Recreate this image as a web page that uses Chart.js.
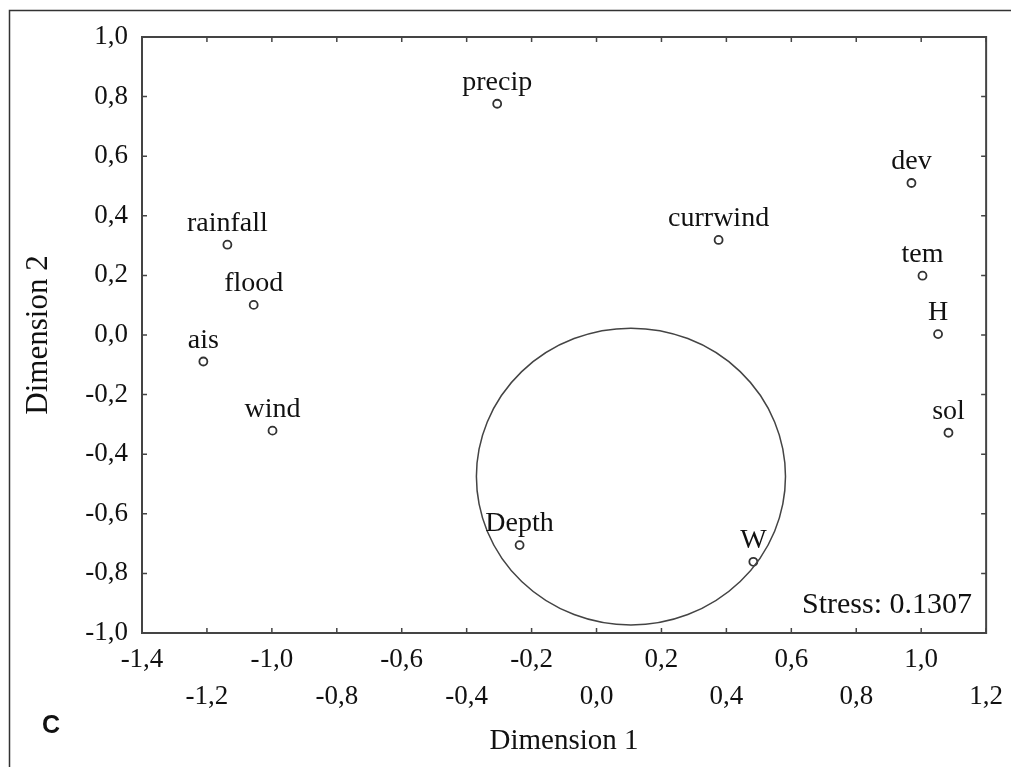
<!DOCTYPE html>
<html>
<head>
<meta charset="utf-8">
<script src="https://cdn.jsdelivr.net/npm/chart.js@4"></script>
<style>
  body { margin: 0; background: #fff; }
  #wrap { position: relative; width: 1011px; height: 767px; }
</style>
</head>
<body>
<div id="wrap"><canvas id="mds-chart" width="1011" height="767"></canvas></div>
<script>
// MDS configuration of the variables
const names = ['precip', 'dev', 'currwind', 'rainfall', 'tem', 'flood', 'H', 'ais', 'wind', 'sol', 'Depth', 'W'];
const dim1 = [-0.306, 0.970, 0.376, -1.137, 1.004, -1.056, 1.052, -1.211, -0.998, 1.084, -0.237, 0.483];
const dim2 = [0.776, 0.510, 0.319, 0.303, 0.199, 0.101, 0.003, -0.089, -0.321, -0.328, -0.705, -0.761];

// axis ticks
const xTicks = [-1.4, -1.2, -1.0, -0.8, -0.6, -0.4, -0.2, 0.0, 0.2, 0.4, 0.6, 0.8, 1.0, 1.2];
const yTicks = [-1.0, -0.8, -0.6, -0.4, -0.2, 0.0, 0.2, 0.4, 0.6, 0.8, 1.0];

// grouping circle (centre and radii in data units)
const circleCenter = [0.106, -0.475];
const circleRadius = [0.476, 0.498];

const stressText = 'Stress: 0.1307';
const panelLetter = 'C';

const serif = '"Liberation Serif", "Times New Roman", serif';
const textColor = '#111';
const lineColor = '#444';

function fmt(v) {
    const r = Math.round(v * 10) / 10;
    return (r === 0 ? 0 : r).toFixed(1).replace('.', ',');
}

// box, inward ticks, circle, point labels and annotations
const decorations = {
    id: 'decorations',
    beforeDraw(chart) {
        const ctx = chart.ctx;
        ctx.save();
        ctx.strokeStyle = '#333';
        ctx.lineWidth = 1.5;
        ctx.beginPath();
        ctx.moveTo(9.5, 767);
        ctx.lineTo(9.5, 10.5);
        ctx.lineTo(1011, 10.5);
        ctx.stroke();
        ctx.restore();
    },
    afterDatasetsDraw(chart) {
        const ctx = chart.ctx;
        const {left, right, top, bottom} = chart.chartArea;
        const xs = chart.scales.x, ys = chart.scales.y;
        ctx.save();

        // frame
        ctx.strokeStyle = lineColor;
        ctx.lineWidth = 2;
        ctx.strokeRect(left, top, right - left, bottom - top);

        // ticks pointing inwards on all four sides
        ctx.lineWidth = 1.5;
        ctx.beginPath();
        xTicks.forEach(v => {
            const px = xs.getPixelForValue(v);
            ctx.moveTo(px, bottom); ctx.lineTo(px, bottom - 5);
            ctx.moveTo(px, top); ctx.lineTo(px, top + 5);
        });
        yTicks.forEach(v => {
            const py = ys.getPixelForValue(v);
            ctx.moveTo(left, py); ctx.lineTo(left + 5, py);
            ctx.moveTo(right, py); ctx.lineTo(right - 5, py);
        });
        ctx.stroke();

        // circle
        const cx = xs.getPixelForValue(circleCenter[0]);
        const cy = ys.getPixelForValue(circleCenter[1]);
        const rx = xs.getPixelForValue(circleCenter[0] + circleRadius[0]) - cx;
        const ry = cy - ys.getPixelForValue(circleCenter[1] + circleRadius[1]);
        ctx.lineWidth = 1.5;
        ctx.beginPath();
        ctx.ellipse(cx, cy, rx, ry, 0, 0, Math.PI * 2);
        ctx.stroke();

        // point labels
        ctx.fillStyle = textColor;
        ctx.font = '28px ' + serif;
        ctx.textAlign = 'center';
        ctx.textBaseline = 'alphabetic';
        chart.getDatasetMeta(0).data.forEach((pt, i) => {
            ctx.fillText(names[i], pt.x, pt.y - 14);
        });

        // stress value
        ctx.font = '30px ' + serif;
        ctx.textAlign = 'right';
        ctx.fillText(stressText, 972, 613);

        // panel letter
        ctx.font = 'bold 25px "Liberation Sans", Arial, sans-serif';
        ctx.textAlign = 'left';
        ctx.fillText(panelLetter, 42, 733);
        ctx.restore();
    }
};

new Chart(document.getElementById('mds-chart'), {
    type: 'scatter',
    data: {
        datasets: [
            {
                label: 'variables',
                data: names.map((n, i) => ({x: dim1[i], y: dim2[i]})),
                pointStyle: 'circle',
                pointRadius: 4,
                pointBorderWidth: 1.8,
                borderColor: '#333',
                backgroundColor: '#fff',
            }
        ]
    },
    options: {
        responsive: false,
        animation: false,
        layout: {
            padding: {left: 0, top: 37, right: 23, bottom: 0},
        },
        plugins: {
            legend: {display: false},
            tooltip: {enabled: false},
        },
        scales: {
            x: {
                type: 'linear',
                min: -1.4,
                max: 1.2,
                afterBuildTicks: scale => { scale.ticks = xTicks.map(v => ({value: v})); },
                afterFit: scale => { scale.height = 134; },
                grid: {display: false, drawTicks: false},
                border: {display: false},
                ticks: {
                    padding: 8,
                    autoSkip: false,
                    maxRotation: 0,
                    color: textColor,
                    font: {family: serif, size: 27, lineHeight: 1.38},
                    callback: (v, i) => i % 2 === 0 ? [fmt(v)] : ['', fmt(v)],
                },
                title: {
                    display: true,
                    text: 'Dimension 1',
                    color: textColor,
                    font: {family: serif, size: 29, lineHeight: 1.2},
                    padding: {top: 0, bottom: 8},
                },
            },
            y: {
                type: 'linear',
                min: -1.0,
                max: 1.0,
                afterBuildTicks: scale => { scale.ticks = yTicks.map(v => ({value: v})); },
                afterFit: scale => { scale.width = 142; },
                grid: {display: false, drawTicks: false},
                border: {display: false},
                ticks: {
                    padding: 14,
                    color: textColor,
                    font: {family: serif, size: 27},
                    callback: v => fmt(v),
                },
                title: {
                    display: true,
                    text: 'Dimension 2',
                    color: textColor,
                    font: {family: serif, size: 31, lineHeight: 1.2},
                    padding: {top: 20, bottom: 0},
                },
            },
        },
    },
    plugins: [decorations],
});
</script>
</body>
</html>
